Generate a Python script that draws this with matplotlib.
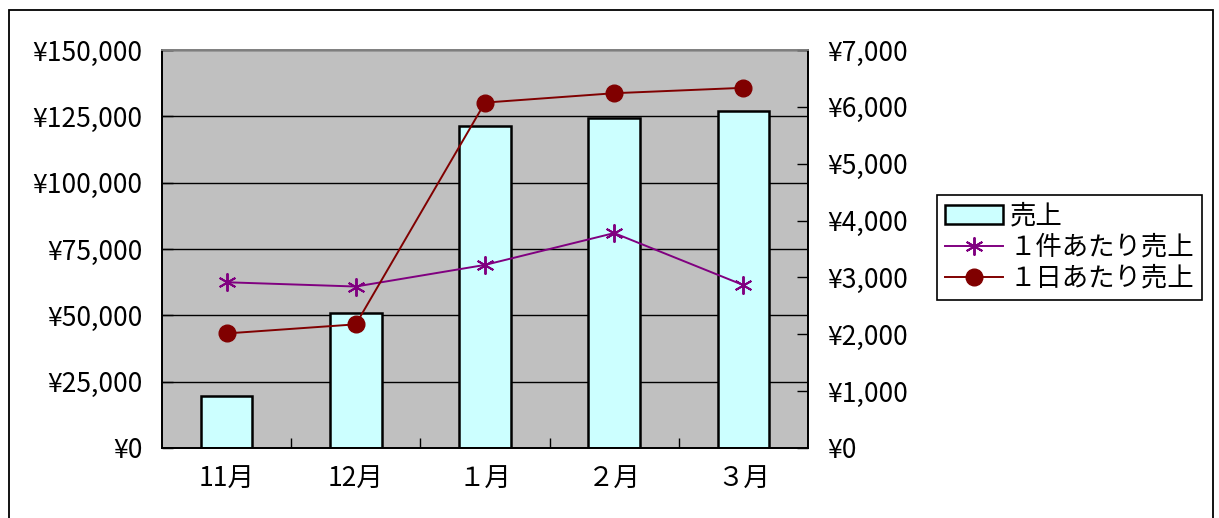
import matplotlib
matplotlib.use("Agg")
import matplotlib.pyplot as plt
import matplotlib.patches as mpatches
from matplotlib.ticker import FuncFormatter, FixedLocator
import numpy as np

plt.rcParams['font.family'] = ['Noto Sans CJK JP', 'DejaVu Sans']

# monthly figures
months = ["11月", "12月", "１月", "２月", "３月"]
sales = [19700, 51000, 121400, 124300, 127100]          # 売上
per_item = [2915, 2840, 3220, 3780, 2865]               # １件あたり売上
per_day = [2015, 2175, 6075, 6240, 6335]                # １日あたり売上

fig = plt.figure(figsize=(12.19, 5.18), dpi=100)
ax = fig.add_axes([162/1219, 1-448/518, (808-162)/1219, (448-50)/518])
ax2 = ax.twinx()

x = np.arange(len(months))
ax.set_facecolor("#C0C0C0")
ax.set_axisbelow(True)
bars = ax.bar(x, sales, width=0.4, color="#CCFFFF", edgecolor="black", linewidth=1.8, label="売上")

ax.set_xlim(-0.5, len(months)-0.5)
ax.set_ylim(0, 150000)
ax.set_yticks(np.arange(0, 150001, 25000))
ax.yaxis.set_major_formatter(FuncFormatter(lambda v, p: f"¥{v:,.0f}"))
ax.grid(axis="y", color="black", linewidth=1)
ax.set_xticks(x, months)
ax.xaxis.set_minor_locator(FixedLocator(np.arange(0.5, len(months)-1, 1)))
ax.tick_params(axis="x", which="major", length=0, pad=13, labelsize=19)
ax.tick_params(axis="x", which="minor", direction="in", length=7, width=1)
ax.tick_params(axis="y", direction="in", length=8, width=1, pad=14, labelsize=19)

l1, = ax2.plot(x, per_item, color="#800080", linewidth=1.4, marker=(6, 2, 0),
               markersize=13, markeredgewidth=1.4, label="１件あたり売上")
l2, = ax2.plot(x, per_day, color="#800000", linewidth=1.4, marker="o",
               markersize=12, label="１日あたり売上")
ax2.set_ylim(0, 7000)
ax2.set_yticks(np.arange(0, 7001, 1000))
ax2.yaxis.set_major_formatter(FuncFormatter(lambda v, p: f"¥{v:,.0f}"))
ax2.tick_params(axis="y", direction="in", length=8, width=1, pad=14, labelsize=19)

for a in (ax, ax2):
    a.spines["left"].set_color("black")
    a.spines["bottom"].set_color("black")
    a.spines["right"].set_color("black")
    a.spines["top"].set_color("#808080")
    for s in a.spines.values():
        s.set_linewidth(1.3)

leg = fig.legend(handles=[bars, l1, l2], loc="upper left",
                 bbox_to_anchor=(937/1219, 1-195/518), fontsize=19,
                 fancybox=False, framealpha=1, edgecolor="black",
                 handlelength=2.2, handletextpad=0.25, labelspacing=0.15,
                 borderpad=0.3, borderaxespad=0)
leg.get_frame().set_linewidth(1.2)

# outer chart border
fig.add_artist(mpatches.Rectangle((9/1219, -0.1), (1213-9)/1219, 1.1-10/518,
                                  transform=fig.transFigure, fill=False,
                                  edgecolor="black", linewidth=1.3))

fig.savefig("out.png", dpi=100)
